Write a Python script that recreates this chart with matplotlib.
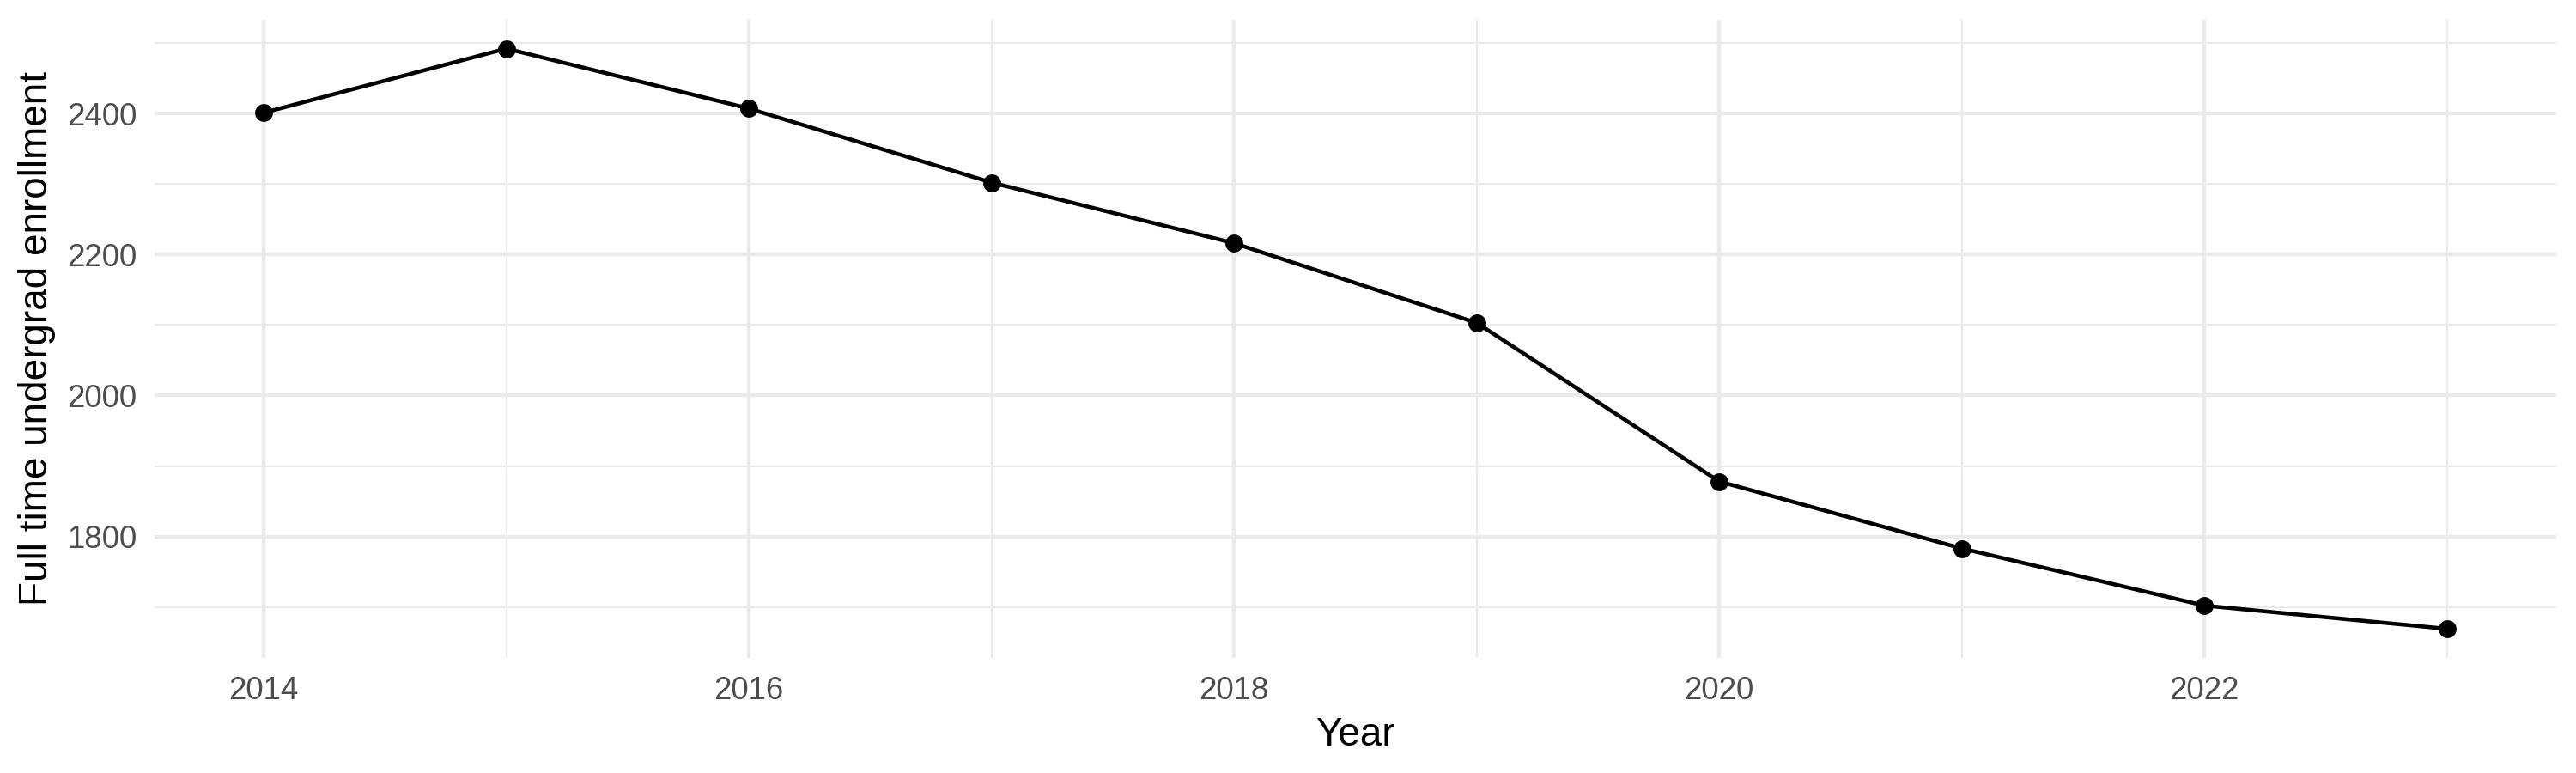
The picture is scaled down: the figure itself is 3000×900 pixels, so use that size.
import matplotlib
matplotlib.use("Agg")
import matplotlib.pyplot as plt
from matplotlib.ticker import MultipleLocator

plt.rcParams['font.family'] = ['Liberation Sans', 'DejaVu Sans']

# enrollment by year
years = [2014, 2015, 2016, 2017, 2018, 2019, 2020, 2021, 2022, 2023]
enrollment = [2401, 2492, 2407, 2302, 2216, 2103, 1878, 1783, 1702, 1669]

grid_col = '#EBEBEB'
text_col = '#4D4D4D'

fig = plt.figure(figsize=(10, 3), dpi=300)
ax = fig.add_axes([0.06, 0.149, 0.9323, 0.8257])

ax.plot(years, enrollment, color='black', lw=1.1, zorder=3)
ax.plot(years, enrollment, 'o', color='black', ms=5.0, mew=0, zorder=4)

# ggplot style 5% expansion
xr = max(years) - min(years)
ax.set_xlim(min(years) - 0.05 * xr, max(years) + 0.05 * xr)
yr = max(enrollment) - min(enrollment)
ax.set_ylim(min(enrollment) - 0.05 * yr, max(enrollment) + 0.05 * yr)

ax.xaxis.set_major_locator(MultipleLocator(2))
ax.xaxis.set_minor_locator(MultipleLocator(1))
ax.yaxis.set_major_locator(MultipleLocator(200))
ax.yaxis.set_minor_locator(MultipleLocator(100))

ax.grid(which='major', color=grid_col, lw=1.07, zorder=0)
ax.grid(which='minor', color=grid_col, lw=0.53, zorder=0)
ax.set_axisbelow(True)

for s in ax.spines.values():
    s.set_visible(False)

ax.tick_params(which='both', length=0)
ax.tick_params(which='major', labelsize=8.8, labelcolor=text_col, pad=5)

ax.set_xlabel('Year', fontsize=11, color='black', labelpad=3)
ax.set_ylabel('Full time undergrad enrollment', fontsize=11, color='black', labelpad=3)

fig.savefig('out.png', dpi=300, facecolor='white')
